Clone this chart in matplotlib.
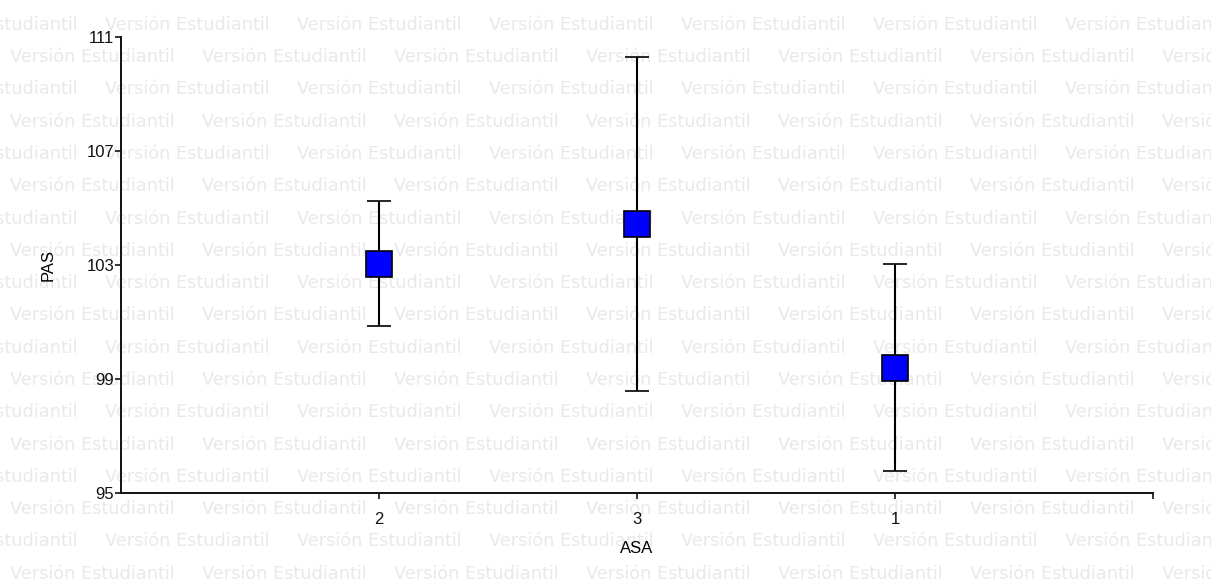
import numpy as np
import matplotlib
matplotlib.use("Agg")
import matplotlib.pyplot as plt

# values
groups = ["2", "3", "1"]
pas_mean = [103.04, 104.44, 99.40]
pas_err = [2.19, 5.85, 3.63]
y_ticks = [95, 99, 103, 107, 111]

W, H = 1211, 585
fig = plt.figure(figsize=(W / 100, H / 100), dpi=100)
fig.patch.set_facecolor("white")

# background watermark rows
wm = "Versión Estudiantil"
for k in range(18):
    base = 29.7 + 32.3 * k
    x0 = 10 if k % 2 else -87
    for j in range(8):
        fig.text((x0 + 192 * j) / W, 1 - base / H, wm, fontsize=12.8,
                 family="DejaVu Sans", color="#e9e9ed", va="baseline",
                 ha="left", zorder=-5)

ax = fig.add_axes([121 / W, 1 - 493 / H, (1153 - 121) / W, (493 - 37) / H])
ax.set_facecolor("none")

x = np.arange(1, len(groups) + 1)
ax.errorbar(x, pas_mean, yerr=pas_err, fmt="s", color="black", ecolor="black",
            elinewidth=1.5, capsize=8.5, capthick=1.5, markersize=19,
            markerfacecolor="#0000ff", markeredgecolor="black",
            markeredgewidth=1.2, zorder=3)

ax.set_xlim(0, 4)
ax.set_ylim(95, 111)
ax.set_xticks(x)
ax.set_xticklabels(groups)
ax.set_xticks([4], minor=True)
ax.set_yticks(y_ticks)

for s in ["top", "right"]:
    ax.spines[s].set_visible(False)
for s in ["left", "bottom"]:
    ax.spines[s].set_linewidth(1.4)
    ax.spines[s].set_color("#111111")

ax.tick_params(axis="both", which="both", direction="out", length=4,
               width=1.2, labelsize=12, pad=1, colors="#111111")
ax.tick_params(axis="x", which="major", pad=10)
for lab in ax.get_xticklabels() + ax.get_yticklabels():
    lab.set_family("Liberation Sans")

ax.set_xlabel("ASA", fontsize=12, family="Liberation Sans", labelpad=10)
ax.set_ylabel("PAS", fontsize=12, family="Liberation Sans", labelpad=22)

fig.savefig("out.png", dpi=100)
